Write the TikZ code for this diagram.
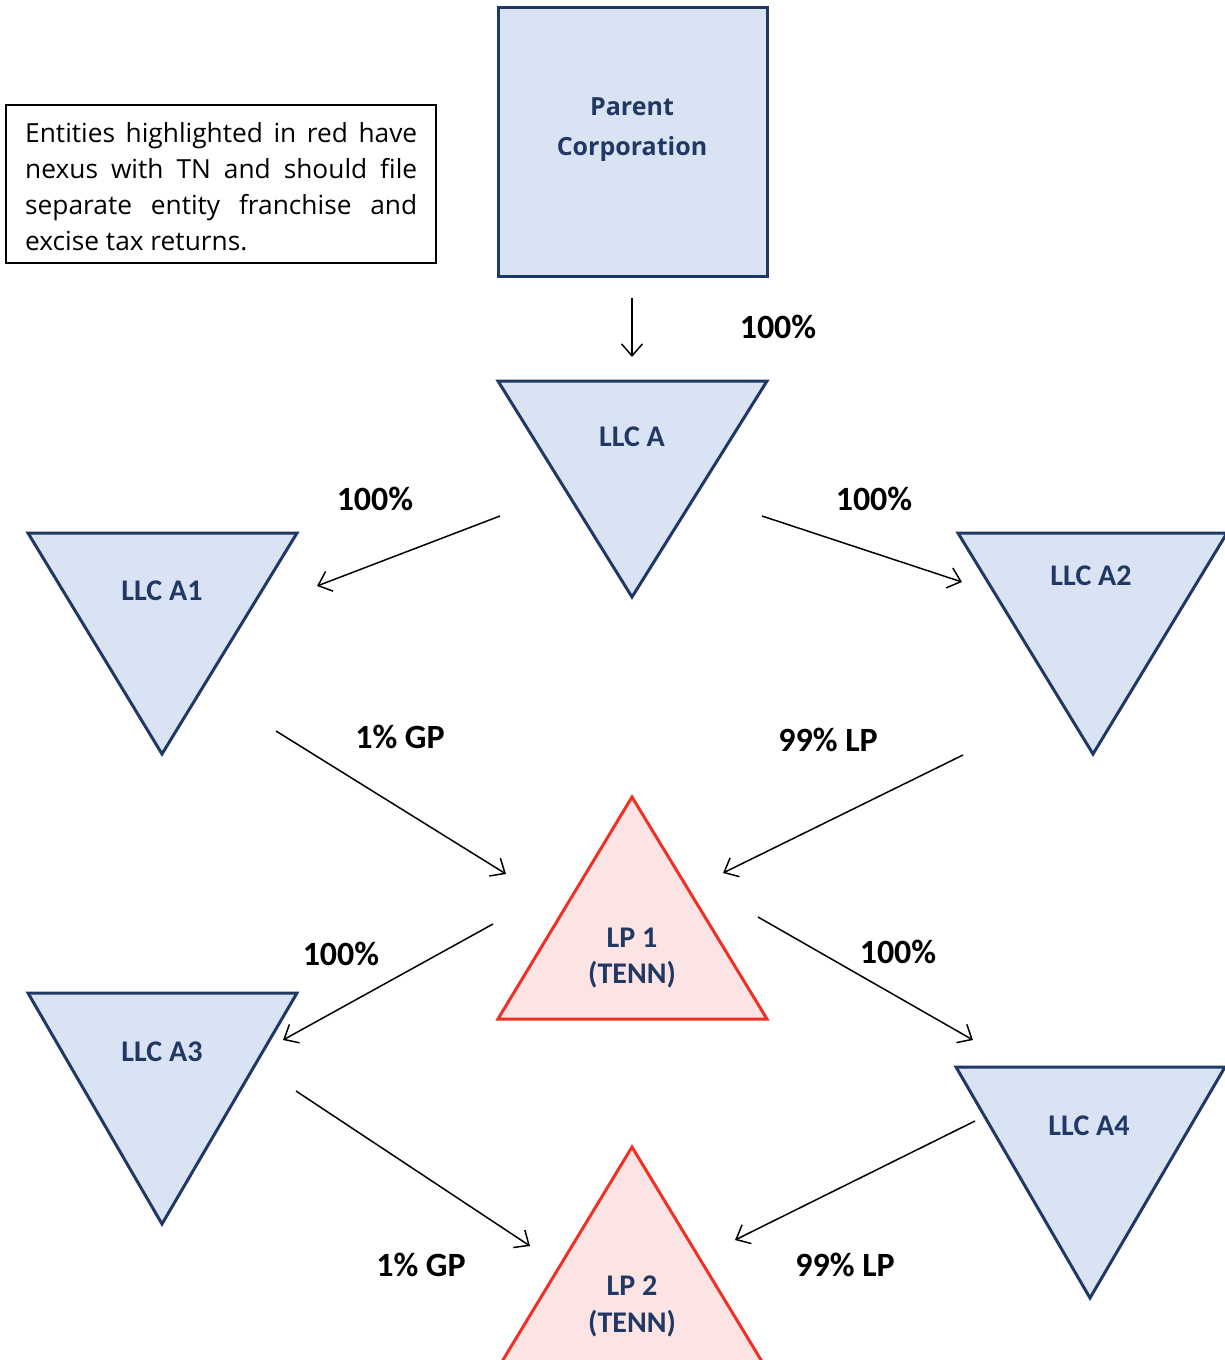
\documentclass[tikz,border=0pt]{standalone}
\usepackage{fontspec}
\setmainfont{Carlito}
\newfontfamily\osans{Open Sans}
\usetikzlibrary{arrows.meta}
\definecolor{navy}{HTML}{203864}
\definecolor{bluefill}{HTML}{DAE3F3}
\definecolor{redline}{HTML}{EE3124}
\definecolor{redfill}{HTML}{FCE4E4}
\definecolor{labelblue}{HTML}{1F3864}
\begin{document}
\begin{tikzpicture}[x=1pt,y=-1pt,
  entity/.style={draw=navy, fill=bluefill, line width=3pt, line join=miter},
  taxed/.style={draw=redline, fill=redfill, line width=3pt, line join=miter},
  elabel/.style={font=\fontsize{30}{34}\selectfont\bfseries, text=labelblue, inner sep=0pt, anchor=base},
  plabel/.style={font=\osans\fontsize{25}{30}\selectfont\bfseries, text=labelblue, inner sep=0pt, anchor=base},
  pct/.style={font=\fontsize{34}{38}\selectfont\bfseries, inner sep=0pt, anchor=base},
  link/.style={line width=1.5pt, -{Straight Barb[length=12pt,width=21pt,line width=1.5pt]}}
]
\clip (0,0) rectangle (1225,1360);
\fill[white] (0,0) rectangle (1225,1360);

% note box
\draw[line width=1.5pt] (6,105) rectangle (436,263);
\node[anchor=north west, inner sep=0pt, text width=392pt, align=justify,
      font=\osans\fontsize{26.3}{36}\selectfont] (note) at (25,122)
  {\hyphenpenalty=10000 Entities highlighted in red have\linebreak nexus with TN and should file\linebreak separate entity franchise and\linebreak excise tax returns.};

% parent
\draw[entity] (498,7) rectangle (767,276);
\node[plabel] (parent1) at (632,115) {Parent};
\node[plabel] (parent2) at (632,155) {Corporation};

% inverted triangles
\draw[entity] (498,381) -- (767,381) -- (632,597) -- cycle;
\node[elabel] (llca) at (632,446) {LLC A};
\draw[entity] (28,533) -- (297,533) -- (162,754) -- cycle;
\node[elabel] (llca1) at (162,600) {LLC A1};
\draw[entity] (958,533) -- (1227,533) -- (1093,754) -- cycle;
\node[elabel] (llca2) at (1091,585) {LLC A2};
\draw[entity] (28,993) -- (297,993) -- (162,1224) -- cycle;
\node[elabel] (llca3) at (162,1061) {LLC A3};
\draw[entity] (956,1067) -- (1225,1067) -- (1090,1298) -- cycle;
\node[elabel] (llca4) at (1089,1135) {LLC A4};

% red triangles
\draw[taxed] (632,797) -- (767,1019) -- (498,1019) -- cycle;
\node[elabel] (lp1a) at (632,947) {LP 1};
\node[elabel] (lp1b) at (632,983) {(TENN)};
\draw[taxed] (632,1147) -- (775,1383) -- (489,1383) -- cycle;
\node[elabel] (lp2a) at (632,1295) {LP 2};
\node[elabel] (lp2b) at (632,1332) {(TENN)};

% connector ends
\coordinate (p-s) at (632,298);   \coordinate (p-e) at (632,357);
\coordinate (a1-s) at (500,516);  \coordinate (a1-e) at (317,586);
\coordinate (a2-s) at (762,516);  \coordinate (a2-e) at (962,582);
\coordinate (g1-s) at (276,731);  \coordinate (g1-e) at (506,874);
\coordinate (l1-s) at (963,755);  \coordinate (l1-e) at (723,873);
\coordinate (a3-s) at (493,924);  \coordinate (a3-e) at (283,1040);
\coordinate (a4-s) at (758,917);  \coordinate (a4-e) at (973,1040);
\coordinate (g2-s) at (296,1091); \coordinate (g2-e) at (530,1246);
\coordinate (l2-s) at (975,1121); \coordinate (l2-e) at (735,1240);

\draw[link] (p-s) -- (p-e);
\draw[link] (a1-s) -- (a1-e);
\draw[link] (a2-s) -- (a2-e);
\draw[link] (g1-s) -- (g1-e);
\draw[link] (l1-s) -- (l1-e);
\draw[link] (a3-s) -- (a3-e);
\draw[link] (a4-s) -- (a4-e);
\draw[link] (g2-s) -- (g2-e);
\draw[link] (l2-s) -- (l2-e);

% percentage labels
\node[pct] (t0) at (778,338) {100\%};
\node[pct] (t1) at (375,510) {100\%};
\node[pct] (t2) at (874,510) {100\%};
\node[pct] (t3) at (400,748) {1\% GP};
\node[pct] (t4) at (828,751) {99\% LP};
\node[pct] (t5) at (341,965) {100\%};
\node[pct] (t6) at (898,963) {100\%};
\node[pct] (t7) at (421,1276) {1\% GP};
\node[pct] (t8) at (845,1276) {99\% LP};
\end{tikzpicture}
\end{document}
